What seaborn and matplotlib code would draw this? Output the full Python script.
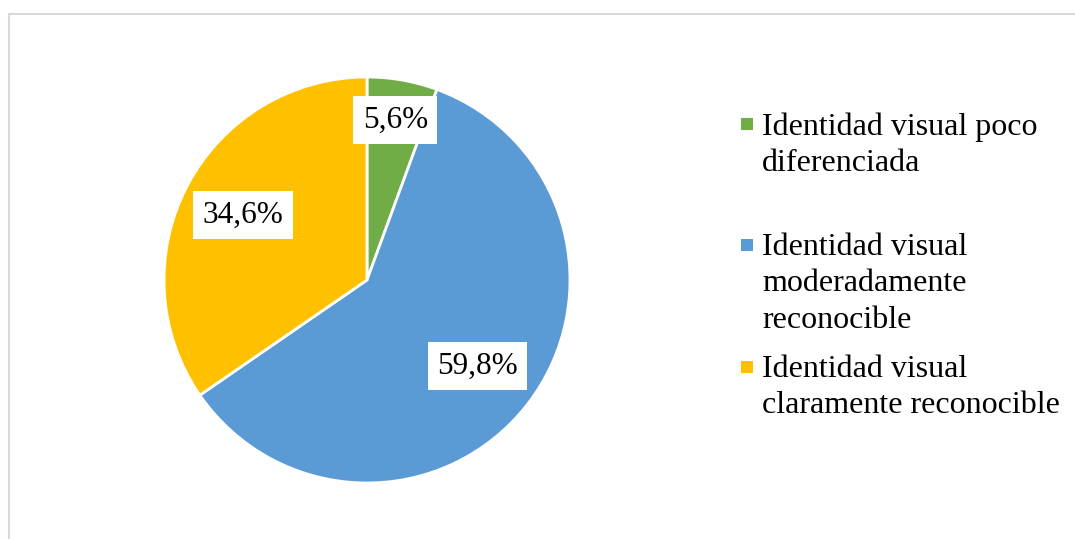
import matplotlib
matplotlib.use("Agg")
import matplotlib.pyplot as plt
import seaborn as sns
from matplotlib.patches import Rectangle

# datos
categorias = [
    "Identidad visual poco\ndiferenciada",
    "Identidad visual\nmoderadamente\nreconocible",
    "Identidad visual\nclaramente reconocible",
]
porcentajes = [5.6, 59.8, 34.6]
colores = ["#70AD47", "#5B9BD5", "#FFC000"]

sns.set_theme(style="white")
plt.rcParams["font.family"] = ["Liberation Serif", "DejaVu Serif"]

fig = plt.figure(figsize=(10.75, 5.39), dpi=100)
fig.patch.set_facecolor("white")

# marco gris del area del grafico
fig.patches.append(Rectangle((9 / 1075, -0.1), 1.2, (539 - 14) / 539 + 0.1,
                             transform=fig.transFigure, fill=False,
                             edgecolor="#D9D9D9", linewidth=1.5))

ax = fig.add_axes([164 / 1075, (539 - 483) / 539, 406 / 1075, 406 / 539])
wedges, textos, autotextos = ax.pie(
    porcentajes, colors=colores, startangle=90, counterclock=False,
    autopct=lambda p: f"{p:.1f}".replace(".", ",") + "%",
    pctdistance=0.69,
    wedgeprops=dict(edgecolor="white", linewidth=2),
    textprops=dict(fontsize=22.5, color="black"),
)
ax.set_xlim(-1, 1)
ax.set_ylim(-1, 1)
ax.set_aspect("equal")

# la etiqueta pequena va mas afuera
x0, y0 = autotextos[0].get_position()
autotextos[0].set_position((x0 * 0.80 / 0.69, y0 * 0.80 / 0.69))
for t in autotextos:
    t.set_bbox(dict(boxstyle="square,pad=0.3", facecolor="white", edgecolor="none"))

# leyenda a la derecha
y_tops = [112, 233, 355]
for cat, col, yt in zip(categorias, colores, y_tops):
    fig.text(762 / 1075, 1 - yt / 539, cat, fontsize=23, va="top", ha="left",
             linespacing=1.33, color="black")
    fig.patches.append(Rectangle((741 / 1075, 1 - (yt + 18) / 539), 12 / 1075, 12 / 539,
                                 transform=fig.transFigure, facecolor=col, edgecolor="none"))

fig.savefig("out.png", dpi=100)
